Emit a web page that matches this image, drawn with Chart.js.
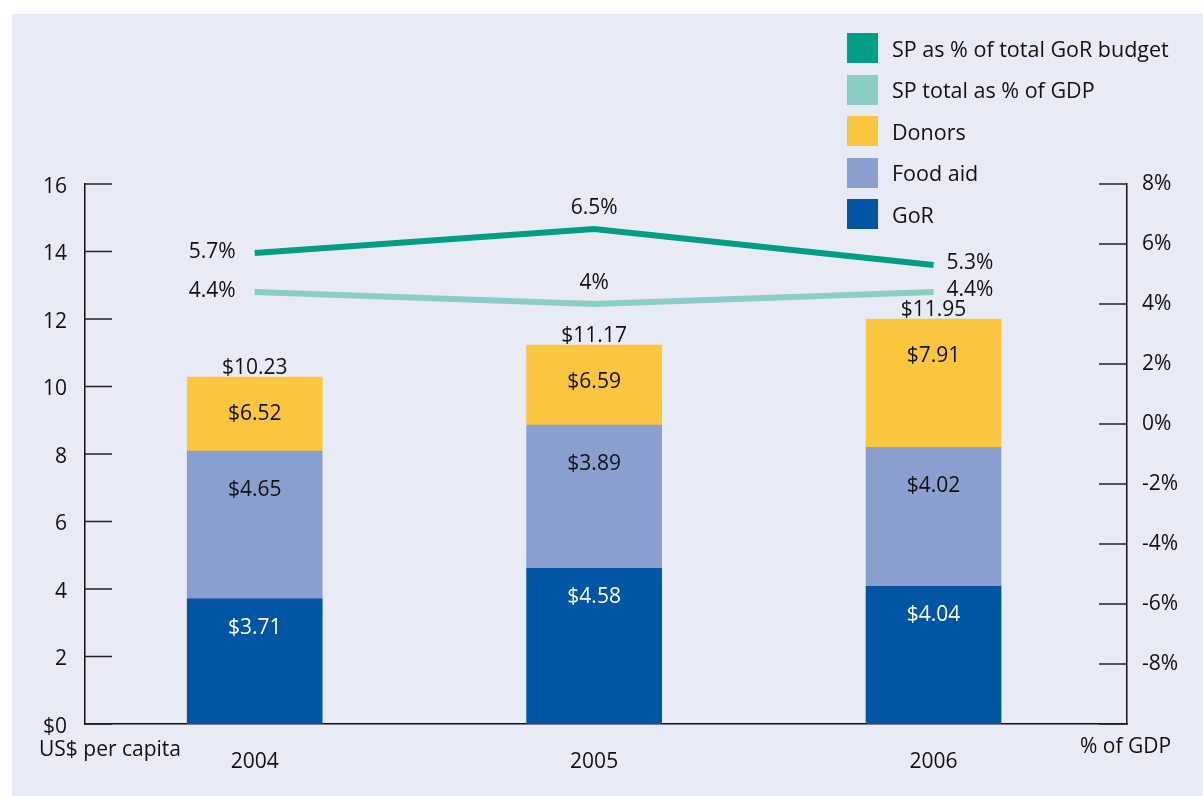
<!DOCTYPE html>
<html>
<head>
<meta charset="utf-8">
<script src="https://cdn.jsdelivr.net/npm/chart.js@4.4.1/dist/chart.umd.min.js"></script>
<style>
    html, body { margin: 0; padding: 0; background: #fff; }
    #wrap { position: relative; width: 1203px; height: 796px; overflow: hidden; }
    #panel { position: absolute; left: 12px; top: 14px; right: 0; bottom: 0; background: #e8eaf6; }
    #chart { position: absolute; left: 0; top: 0; }
    #legend { position: absolute; left: 847px; top: 33px; font-family: "Open Sans", sans-serif; font-size: 21.5px; color: #111; }
    .leg-row { display: flex; align-items: center; height: 30px; margin-bottom: 11.5px; }
    .leg-box { width: 31px; height: 30px; margin-right: 14px; flex: none; }
</style>
</head>
<body>
<div id="wrap">
    <div id="panel"></div>
    <canvas id="chart" width="1203" height="796"></canvas>
    <div id="legend"></div>
</div>
<script>
// years on the x axis
const years = [2004, 2005, 2006];

// bar segment heights (US$ per capita) as drawn
const gor = [3.71, 4.61, 4.08];
const foodAid = [4.38, 4.25, 4.12];
const donors = [2.19, 2.37, 3.80];

// printed labels on the bars
const gorLabels = ['$3.71', '$4.58', '$4.04'];
const foodLabels = ['$4.65', '$3.89', '$4.02'];
const donorLabels = ['$6.52', '$6.59', '$7.91'];
const totalLabels = ['$10.23', '$11.17', '$11.95'];

// lines, % (right axis)
const spGorBudget = [5.7, 6.5, 5.3];
const spGdp = [4.4, 4.0, 4.4];
const spGorLabels = ['5.7%', '6.5%', '5.3%'];
const spGdpLabels = ['4.4%', '4%', '4.4%'];

const FONT = '"Open Sans", sans-serif';
const pts = arr => years.map((x, i) => ({ x, y: arr[i] }));

const datasets = [
    { type: 'line', label: 'SP as % of total GoR budget', data: pts(spGorBudget), yAxisID: 'y2', borderColor: '#009e85', backgroundColor: '#009e85', borderWidth: 6, pointRadius: 0, tension: 0, shown: spGorLabels },
    { type: 'line', label: 'SP total as % of GDP', data: pts(spGdp), yAxisID: 'y2', borderColor: '#89cdc4', backgroundColor: '#89cdc4', borderWidth: 6, pointRadius: 0, tension: 0, shown: spGdpLabels },
    { type: 'bar', label: 'GoR', data: pts(gor), yAxisID: 'y', backgroundColor: '#0055a5', barThickness: 135, shown: gorLabels, textColor: '#fff', textDy: 29 },
    { type: 'bar', label: 'Food aid', data: pts(foodAid), yAxisID: 'y', backgroundColor: '#8b9fcf', barThickness: 135, shown: foodLabels, textColor: '#111', textDy: 39 },
    { type: 'bar', label: 'Donors', data: pts(donors), yAxisID: 'y', backgroundColor: '#fbc53f', barThickness: 135, shown: donorLabels, textColor: '#111', textDy: 37 }
];

// legend order as in the picture
const legendOrder = [0, 1, 4, 3, 2];
document.getElementById('legend').innerHTML = legendOrder.map(i => `
    <div class="leg-row"><div class="leg-box" style="background:${datasets[i].backgroundColor}"></div><span>${datasets[i].label}</span></div>
`).join('');

const decorations = {
    id: 'decorations',
    afterDatasetsDraw(chart) {
        const ctx = chart.ctx;
        const { y, y2 } = chart.scales;
        ctx.save();
        // inward tick marks
        ctx.strokeStyle = '#222';
        ctx.lineWidth = 1.5;
        y.ticks.forEach(t => {
            const py = y.getPixelForValue(t.value);
            ctx.beginPath(); ctx.moveTo(y.right, py); ctx.lineTo(y.right + 27, py); ctx.stroke();
        });
        y2.ticks.forEach(t => {
            const py = y2.getPixelForValue(t.value);
            ctx.beginPath(); ctx.moveTo(y2.left - 28, py); ctx.lineTo(y2.left, py); ctx.stroke();
        });

        ctx.font = '21px ' + FONT;
        ctx.textBaseline = 'middle';
        // bar and line labels
        chart.data.datasets.forEach((ds, di) => {
            const meta = chart.getDatasetMeta(di);
            if (ds.type === 'bar') {
                ctx.fillStyle = ds.textColor;
                ctx.textAlign = 'center';
                meta.data.forEach((el, i) => ctx.fillText(ds.shown[i], el.x, el.y + ds.textDy));
            } else {
                ctx.fillStyle = '#111';
                meta.data.forEach((el, i) => {
                    if (i === 0) { ctx.textAlign = 'right'; ctx.fillText(ds.shown[i], el.x - 19, el.y - 1); }
                    else if (i === meta.data.length - 1) { ctx.textAlign = 'left'; ctx.fillText(ds.shown[i], el.x + 13, el.y - 2); }
                    else { ctx.textAlign = 'center'; ctx.fillText(ds.shown[i], el.x, el.y - 21); }
                });
            }
        });
        // totals above the stacks
        const top = chart.getDatasetMeta(4);
        ctx.fillStyle = '#111';
        ctx.textAlign = 'center';
        top.data.forEach((el, i) => ctx.fillText(totalLabels[i], el.x, el.y - 9));

        // axis titles
        ctx.textAlign = 'left';
        ctx.fillText('US$ per capita', 39, 750);
        ctx.fillText('% of GDP', 1080, 747);
        ctx.restore();
    }
};

new Chart(document.getElementById('chart'), {
    type: 'bar',
    data: { datasets },
    options: {
        responsive: false,
        animation: false,
        layout: { padding: { top: 184, left: 0, right: 0, bottom: 0 } },
        plugins: { legend: { display: false }, tooltip: { enabled: false } },
        scales: {
            x: {
                type: 'linear', min: 2003.5, max: 2006.57, offset: false, stacked: true,
                afterBuildTicks: s => { s.ticks = years.map(v => ({ value: v })); },
                afterFit: s => { s.height = 72; },
                grid: { display: false, drawTicks: false },
                border: { display: true, color: '#111', width: 1.5 },
                ticks: { color: '#111', font: { family: FONT, size: 21 }, padding: 25, callback: v => String(v) }
            },
            y: {
                position: 'left', min: 0, max: 16, stacked: true,
                afterFit: s => { s.width = 85; },
                grid: { display: false, drawTicks: false },
                border: { display: true, color: '#111', width: 1.5 },
                ticks: { stepSize: 2, color: '#111', font: { family: FONT, size: 21 }, padding: 18, labelOffset: 3, callback: v => v === 0 ? '$0' : String(v) }
            },
            y2: {
                position: 'right', min: -10, max: 8,
                afterFit: s => { s.width = 76; },
                grid: { display: false, drawTicks: false },
                border: { display: true, color: '#111', width: 1.5 },
                ticks: { stepSize: 2, color: '#111', font: { family: FONT, size: 21 }, padding: 15, callback: v => v === -10 ? '' : v + '%' }
            }
        }
    },
    plugins: [decorations]
});
</script>
</body>
</html>
